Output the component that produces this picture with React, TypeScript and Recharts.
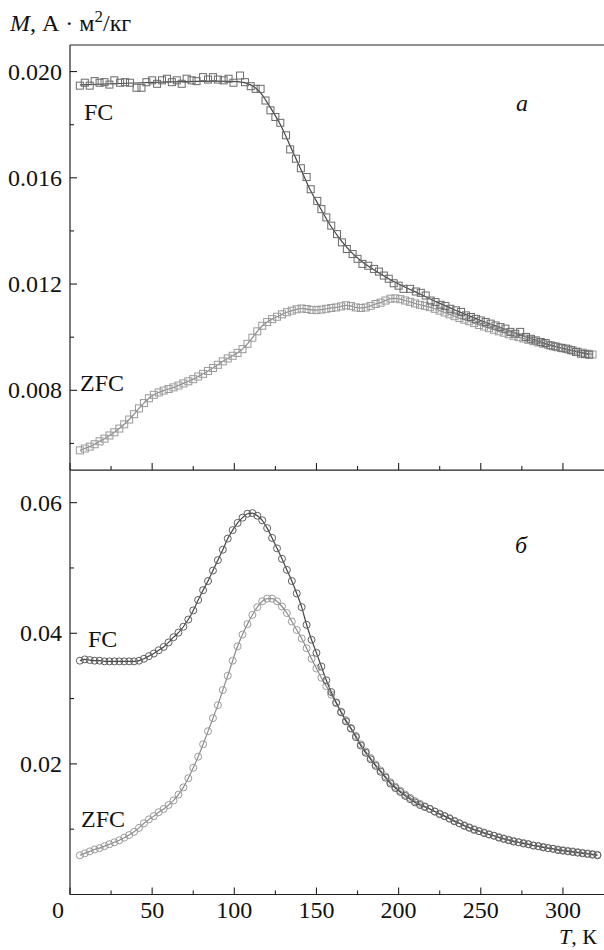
import React from "react";
import { ComposedChart, Line, XAxis, YAxis, ReferenceLine } from "recharts";

// ---------- Panel (a): squares ----------
const fcTopMarkT = [6, 9, 12, 15, 18, 21, 24, 27, 30.5, 33.5, 36.5, 40.5, 43.5, 46.5, 50, 53, 56, 59, 62, 65, 68, 71, 74, 77, 81, 84, 87, 90, 93.5, 96.5, 99.5, 103.5, 106.5, 110, 113, 116, 119, 122, 125, 128, 131.5, 134, 137.5, 140.5, 144, 146.5, 150.5, 153, 156, 159, 162.5, 165.5, 168.5, 172, 175, 178, 181.5, 185, 188, 191, 194, 197, 200, 203, 207, 210.5, 213.5, 216.5, 219.5, 222.5, 225.5, 228.5, 231.5, 235, 238, 241, 244, 247, 250, 253, 256, 259, 262, 265, 268, 271, 274, 277.5, 280.5, 283.5, 286.5, 289.5, 292.5, 295.5, 299, 302, 305, 308, 311, 313.5, 316];
const fcTopMarkM = [0.01947, 0.01958, 0.01947, 0.01964, 0.01958, 0.0196, 0.01951, 0.01967, 0.01958, 0.0196, 0.01958, 0.01939, 0.01939, 0.0196, 0.01967, 0.01954, 0.01967, 0.01973, 0.0196, 0.01967, 0.01954, 0.01973, 0.01967, 0.01964, 0.01979, 0.0197, 0.01979, 0.0197, 0.01967, 0.01973, 0.01958, 0.01985, 0.0196, 0.01945, 0.01935, 0.01935, 0.01891, 0.01854, 0.01829, 0.01807, 0.0176, 0.01707, 0.01672, 0.01636, 0.01603, 0.01557, 0.01513, 0.01482, 0.01451, 0.0142, 0.01388, 0.01357, 0.01332, 0.01313, 0.01295, 0.01276, 0.01269, 0.01257, 0.01247, 0.01232, 0.0122, 0.01203, 0.01194, 0.01182, 0.01182, 0.01172, 0.01167, 0.01157, 0.01138, 0.01132, 0.01122, 0.01117, 0.01107, 0.01101, 0.01095, 0.01082, 0.01076, 0.01069, 0.01063, 0.01057, 0.01051, 0.01044, 0.01038, 0.01032, 0.0102, 0.01013, 0.0102, 0.01001, 0.00994, 0.00988, 0.00982, 0.00978, 0.00969, 0.00965, 0.0096, 0.00957, 0.00951, 0.00944, 0.00938, 0.00936, 0.00934];

const fcTopFitT = [6, 30, 60, 90, 102, 110, 116, 122, 128, 134, 140, 146, 152, 158, 164, 170, 178, 186, 194, 204, 214, 224, 236, 250, 265, 280, 295, 316];
const fcTopFitM = [0.0195, 0.01955, 0.01961, 0.01964, 0.01962, 0.0195, 0.0192, 0.01864, 0.01801, 0.0172, 0.01639, 0.01557, 0.0149, 0.01425, 0.01372, 0.01328, 0.01283, 0.0125, 0.0122, 0.01188, 0.0116, 0.0113, 0.01098, 0.01063, 0.0103, 0.00996, 0.00966, 0.00935];

const zfcTopT = [6, 9, 12, 15, 18, 21, 24, 27, 30, 33, 36, 39, 42, 45, 48, 51, 54, 57, 60, 63, 66, 69, 72, 75, 78, 81, 84, 87, 90, 93, 96, 99, 102, 105, 108, 111, 114, 117, 120, 123, 126, 129, 132, 135, 138, 141, 144, 147, 150, 153, 156, 159, 162, 165, 168, 171, 174, 177, 180, 183, 186, 189, 192, 195, 198, 201, 204, 207, 210, 213, 216, 219, 222, 225, 228, 231, 234, 237, 240, 243, 246, 249, 252, 255, 258, 261, 264, 267, 270, 273, 276, 279, 282, 285, 288, 291, 294, 297, 300, 303, 306, 309, 312, 315, 318];
const zfcTopM = [0.00574, 0.00581, 0.00588, 0.00597, 0.00608, 0.00618, 0.0063, 0.00642, 0.00656, 0.00672, 0.0069, 0.0071, 0.00732, 0.00752, 0.0077, 0.00783, 0.00792, 0.00799, 0.00805, 0.00811, 0.00818, 0.00826, 0.00834, 0.00842, 0.00852, 0.00862, 0.00873, 0.00884, 0.00896, 0.00909, 0.0092, 0.0093, 0.00941, 0.00955, 0.00975, 0.00998, 0.01022, 0.01043, 0.01057, 0.01068, 0.01077, 0.01086, 0.01094, 0.011, 0.01105, 0.01108, 0.01106, 0.01103, 0.01102, 0.01104, 0.01107, 0.0111, 0.01112, 0.01116, 0.0112, 0.01117, 0.01112, 0.0111, 0.01112, 0.01118, 0.01125, 0.0113, 0.01138, 0.01145, 0.01146, 0.01143, 0.01138, 0.01133, 0.01127, 0.01122, 0.01118, 0.01113, 0.01107, 0.011, 0.01093, 0.01086, 0.01079, 0.01072, 0.01066, 0.0106, 0.01053, 0.01046, 0.0104, 0.01034, 0.01028, 0.01022, 0.01017, 0.01011, 0.01005, 0.01, 0.00995, 0.0099, 0.00985, 0.0098, 0.00975, 0.00971, 0.00966, 0.00962, 0.00958, 0.00954, 0.0095, 0.00946, 0.00942, 0.00938, 0.00935];

// ---------- Panel (б): circles ----------
const botT = [6, 9, 12, 15, 18, 21, 24, 27, 30, 33, 36, 39, 42, 45, 48, 51, 54, 57, 60, 63, 66, 69, 72, 75, 78, 81, 84, 87, 90, 93, 96, 99, 102, 105, 108, 111, 114, 117, 120, 123, 126, 129, 132, 135, 138, 141, 144, 147, 150, 153, 156, 159, 162, 165, 168, 171, 174, 177, 180, 183, 186, 189, 192, 195, 198, 201, 204, 207, 210, 213, 216, 219, 222, 225, 228, 231, 234, 237, 240, 243, 246, 249, 252, 255, 258, 261, 264, 267, 270, 273, 276, 279, 282, 285, 288, 291, 294, 297, 300, 303, 306, 309, 312, 315, 318, 321];
const fcBotM = [0.0358, 0.036, 0.0359, 0.0358, 0.0358, 0.0357, 0.0357, 0.0357, 0.0357, 0.0357, 0.0357, 0.0357, 0.0358, 0.0361, 0.0365, 0.0369, 0.0374, 0.0379, 0.0386, 0.0394, 0.0401, 0.041, 0.0421, 0.0435, 0.0451, 0.0466, 0.048, 0.0496, 0.0512, 0.0528, 0.0545, 0.0558, 0.0569, 0.0577, 0.0583, 0.0584, 0.058, 0.0573, 0.0561, 0.0546, 0.053, 0.0514, 0.0497, 0.048, 0.0461, 0.044, 0.0413, 0.039, 0.037, 0.0349, 0.0328, 0.031, 0.0294, 0.0279, 0.0265, 0.0254, 0.0241, 0.0228, 0.0217, 0.0207, 0.0197, 0.0188, 0.0179, 0.017, 0.0163, 0.0157, 0.0151, 0.0146, 0.0141, 0.0137, 0.0134, 0.0131, 0.0127, 0.0123, 0.012, 0.0116, 0.0112, 0.0109, 0.0105, 0.0102, 0.0099, 0.0097, 0.0094, 0.0092, 0.009, 0.0087, 0.0085, 0.0083, 0.0081, 0.008, 0.0078, 0.0077, 0.0075, 0.0074, 0.0072, 0.0071, 0.007, 0.0068, 0.0067, 0.0066, 0.0065, 0.0064, 0.0063, 0.0062, 0.0061, 0.006];
const zfcBotM = [0.006, 0.0063, 0.0066, 0.0069, 0.0071, 0.0074, 0.0077, 0.008, 0.0083, 0.0087, 0.0091, 0.0096, 0.0102, 0.0109, 0.0115, 0.012, 0.0126, 0.0131, 0.0137, 0.0144, 0.0153, 0.0164, 0.0178, 0.0194, 0.0211, 0.023, 0.025, 0.027, 0.029, 0.0313, 0.0335, 0.0358, 0.038, 0.0398, 0.0414, 0.0428, 0.044, 0.0449, 0.0453, 0.0453, 0.0449, 0.0441, 0.0431, 0.0418, 0.0405, 0.0392, 0.0377, 0.0361, 0.0346, 0.0332, 0.0319, 0.0306, 0.0293, 0.028, 0.0267, 0.0255, 0.0243, 0.023, 0.0219, 0.0209, 0.0199, 0.019, 0.0181, 0.0172, 0.0165, 0.0159, 0.0153, 0.0148, 0.0143, 0.0139, 0.0135, 0.0131, 0.0127, 0.0124, 0.012, 0.0117, 0.0113, 0.0109, 0.0106, 0.0103, 0.01, 0.0097, 0.0095, 0.0092, 0.009, 0.0088, 0.0086, 0.0084, 0.0082, 0.008, 0.0079, 0.0077, 0.0075, 0.0074, 0.0073, 0.0071, 0.007, 0.0069, 0.0068, 0.0067, 0.0066, 0.0065, 0.0064, 0.0063, 0.0062, 0.0061];

// ---------- Axes ----------
const xTicks = [0, 25, 50, 75, 100, 125, 150, 175, 200, 225, 250, 275, 300];
const xLabels = [0, 50, 100, 150, 200, 250, 300];
const topYTicks = [0.006, 0.008, 0.01, 0.012, 0.014, 0.016, 0.018, 0.02];
const topYLabels = ["0.008", "0.012", "0.016", "0.020"];
const botYTicks = [0.01, 0.02, 0.03, 0.04, 0.05, 0.06];
const botYLabels = ["0.02", "0.04", "0.06"];

const zip = (t: number[], m: number[]) => t.map((T, i) => ({ T, M: m[i] }));

const FONT = "Liberation Serif, DejaVu Serif, Times New Roman, serif";
const FS = 24;
const AX = "#222";

const squareDot = (color: string) => (props: any) => {
  const { cx, cy, index } = props;
  if (cx == null || cy == null) return <g key={index} />;
  return <rect key={index} x={cx - 3.5} y={cy - 3.5} width={7} height={7} fill="none" stroke={color} strokeWidth={1} />;
};
const circleDot = (color: string) => (props: any) => {
  const { cx, cy, index } = props;
  if (cx == null || cy == null) return <g key={index} />;
  return <circle key={index} cx={cx} cy={cy} r={3.5} fill="none" stroke={color} strokeWidth={1} />;
};

const makeYTick = (labels: string[], digits: number) => (props: any) => {
  const { x, y, payload } = props;
  const txt = payload.value.toFixed(digits);
  const major = labels.includes(txt);
  return (
    <g>
      <line x1={x} y1={y} x2={x + (major ? 7 : 4)} y2={y} stroke={AX} strokeWidth={1.1} />
      {major && (
        <text x={x - 8} y={y + 8} textAnchor="end" fontSize={FS} style={{ fontFamily: FONT }} fill="#111">
          {txt}
        </text>
      )}
    </g>
  );
};

const makeXTick = (showLabels: boolean) => (props: any) => {
  const { x, y, payload } = props;
  const v = payload.value;
  const major = xLabels.includes(v);
  return (
    <g>
      <line x1={x} y1={y} x2={x} y2={y - (major ? 7 : 4)} stroke={AX} strokeWidth={1.1} />
      {showLabels && major && (
        <text x={v === 0 ? x - 12 : x} y={y + 23} textAnchor="middle" fontSize={FS} style={{ fontFamily: FONT }} fill="#111">
          {String(v)}
        </text>
      )}
    </g>
  );
};

export default function App() {
  const fcTopMarks = zip(fcTopMarkT, fcTopMarkM);
  const fcTopFit = zip(fcTopFitT, fcTopFitM);
  const zfcTop = zip(zfcTopT, zfcTopM);
  const fcBot = zip(botT, fcBotM);
  const zfcBot = zip(botT, zfcBotM);

  return (
    <div style={{ position: "absolute", left: 0, top: 0, width: 604, height: 950, background: "#fff", overflow: "hidden" }}>
      <div style={{ position: "absolute", left: 0, top: 0 }}>
        <ComposedChart width={604} height={480} margin={{ top: 45, right: 0, left: 0, bottom: 0 }}>
          <XAxis
            dataKey="T"
            type="number"
            domain={[0, 325]}
            ticks={xTicks}
            height={10}
            tickSize={0}
            tickMargin={0}
            tickLine={false}
            axisLine={{ stroke: AX, strokeWidth: 1.2 }}
            tick={makeXTick(false)}
            allowDataOverflow
          />
          <YAxis
            type="number"
            domain={[0.005, 0.021]}
            ticks={topYTicks}
            width={70}
            tickSize={0}
            tickMargin={0}
            tickLine={false}
            axisLine={{ stroke: AX, strokeWidth: 1.2 }}
            tick={makeYTick(topYLabels, 3)}
            allowDataOverflow
          />
          <ReferenceLine y={0.021} stroke={AX} strokeWidth={1.2} />
          <Line data={zfcTop} dataKey="M" type="monotone" stroke="#8c8c8c" strokeWidth={1.2} dot={squareDot("#9a9a9a")} isAnimationActive={false} />
          <Line data={fcTopFit} dataKey="M" type="monotone" stroke="#454545" strokeWidth={1.2} dot={false} isAnimationActive={false} />
          <Line data={fcTopMarks} dataKey="M" stroke="none" dot={squareDot("#6a6a6a")} isAnimationActive={false} />
        </ComposedChart>
      </div>
      <div style={{ position: "absolute", left: 0, top: 470 }}>
        <ComposedChart width={604} height={480} margin={{ top: 0, right: 0, left: 0, bottom: 25.5 }}>
          <XAxis
            dataKey="T"
            type="number"
            domain={[0, 325]}
            ticks={xTicks}
            height={30}
            tickSize={0}
            tickMargin={0}
            tickLine={false}
            axisLine={{ stroke: AX, strokeWidth: 1.2 }}
            tick={makeXTick(true)}
            allowDataOverflow
          />
          <YAxis
            type="number"
            domain={[0, 0.065]}
            ticks={botYTicks}
            width={70}
            tickSize={0}
            tickMargin={0}
            tickLine={false}
            axisLine={{ stroke: AX, strokeWidth: 1.2 }}
            tick={makeYTick(botYLabels, 2)}
            allowDataOverflow
          />
          <ReferenceLine y={0.065} stroke={AX} strokeWidth={1.2} />
          <Line data={zfcBot} dataKey="M" type="monotone" stroke="#8c8c8c" strokeWidth={1.2} dot={circleDot("#9a9a9a")} isAnimationActive={false} />
          <Line data={fcBot} dataKey="M" type="monotone" stroke="#454545" strokeWidth={1.2} dot={circleDot("#5e5e5e")} isAnimationActive={false} />
        </ComposedChart>
      </div>
      <svg width={604} height={950} style={{ position: "absolute", left: 0, top: 0, pointerEvents: "none", fontFamily: FONT }}>
        <g fontSize={FS} fill="#111" style={{ fontFamily: FONT }}>
          <text x={10} y={31}>
            <tspan fontStyle="italic">M</tspan>, А · м<tspan dy={-9} fontSize={17}>2</tspan>
            <tspan dy={9}>/кг</tspan>
          </text>
          <text x={84} y={120}>FC</text>
          <text x={80} y={391}>ZFC</text>
          <text x={516} y={111} fontStyle="italic">a</text>
          <text x={88} y={647}>FC</text>
          <text x={81} y={827}>ZFC</text>
          <text x={515} y={553} fontStyle="italic">б</text>
          <text x={559} y={944} fontSize={22}>
            <tspan fontStyle="italic">T</tspan>, К
          </text>
        </g>
      </svg>
    </div>
  );
}
